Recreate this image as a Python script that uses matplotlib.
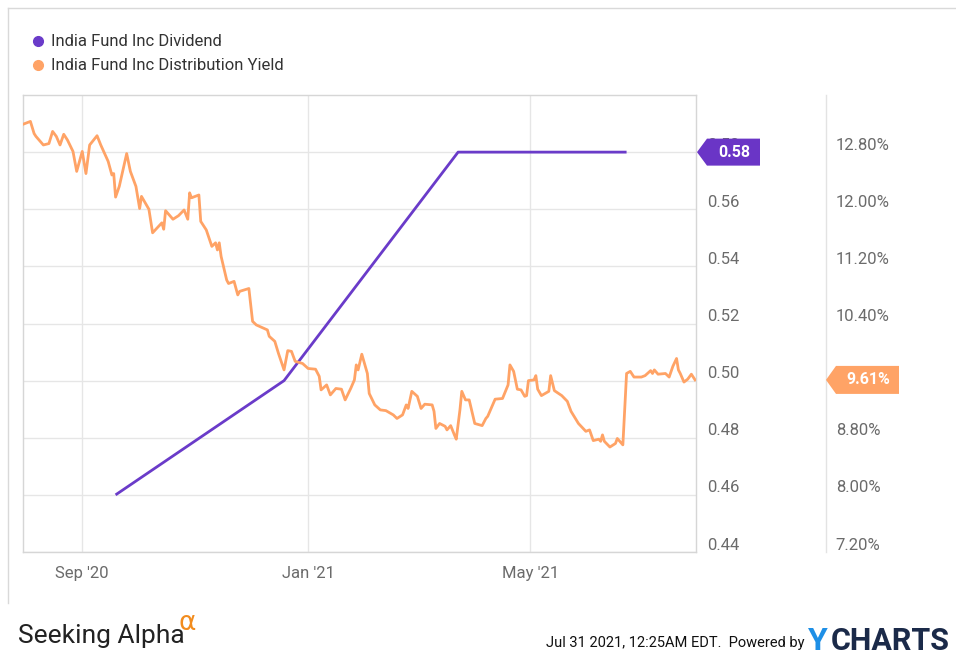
import matplotlib
matplotlib.use("Agg")
import matplotlib.pyplot as plt
import matplotlib.dates as mdates
from matplotlib.patches import Polygon
from matplotlib.lines import Line2D
from matplotlib.ticker import FixedLocator, FuncFormatter
from matplotlib.transforms import ScaledTranslation
import pandas as pd

# ---------------- data ----------------
div_dates = ["2020-09-19", "2020-12-19", "2021-03-23", "2021-06-22"]
div_values = [0.46, 0.50, 0.58, 0.58]

yield_dates = [
    "2020-07-31", "2020-08-04", "2020-08-06", "2020-08-07", "2020-08-11", "2020-08-14", "2020-08-16",
    "2020-08-18", "2020-08-20", "2020-08-22", "2020-08-24", "2020-08-27", "2020-08-29",
    "2020-09-01", "2020-09-03", "2020-09-05", "2020-09-09", "2020-09-11", "2020-09-15", "2020-09-17",
    "2020-09-18", "2020-09-19", "2020-09-21", "2020-09-25", "2020-09-27", "2020-09-29", "2020-09-30",
    "2020-10-02", "2020-10-03", "2020-10-07", "2020-10-09", "2020-10-14", "2020-10-15", "2020-10-16",
    "2020-10-20", "2020-10-23", "2020-10-26", "2020-10-28", "2020-10-29", "2020-10-30",
    "2020-11-03", "2020-11-04", "2020-11-07", "2020-11-10", "2020-11-12", "2020-11-13", "2020-11-14",
    "2020-11-15", "2020-11-18", "2020-11-19", "2020-11-22", "2020-11-24", "2020-11-25", "2020-11-30",
    "2020-12-02", "2020-12-04", "2020-12-10", "2020-12-11", "2020-12-14", "2020-12-16", "2020-12-19",
    "2020-12-21", "2020-12-23", "2020-12-25", "2020-12-29",
    "2021-01-01", "2021-01-05", "2021-01-07", "2021-01-08", "2021-01-11", "2021-01-13", "2021-01-16",
    "2021-01-19", "2021-01-21", "2021-01-24", "2021-01-26", "2021-01-27", "2021-01-28", "2021-01-30",
    "2021-02-02", "2021-02-03", "2021-02-06", "2021-02-09", "2021-02-12", "2021-02-16", "2021-02-18",
    "2021-02-21", "2021-02-23", "2021-02-24", "2021-02-26",
    "2021-03-01", "2021-03-03", "2021-03-05", "2021-03-09", "2021-03-10", "2021-03-11", "2021-03-13",
    "2021-03-16", "2021-03-17", "2021-03-19", "2021-03-21", "2021-03-22", "2021-03-24", "2021-03-25",
    "2021-03-27", "2021-03-29",
    "2021-04-01", "2021-04-05", "2021-04-07", "2021-04-08", "2021-04-12", "2021-04-16", "2021-04-19",
    "2021-04-20", "2021-04-22", "2021-04-24", "2021-04-26", "2021-04-28", "2021-04-29", "2021-04-30",
    "2021-05-03", "2021-05-04", "2021-05-05", "2021-05-07", "2021-05-11", "2021-05-12", "2021-05-14",
    "2021-05-18", "2021-05-21", "2021-05-23", "2021-05-27", "2021-05-31",
    "2021-06-02", "2021-06-04", "2021-06-07", "2021-06-08", "2021-06-09", "2021-06-10", "2021-06-13",
    "2021-06-16", "2021-06-17", "2021-06-20", "2021-06-22", "2021-06-24", "2021-06-26", "2021-06-30",
    "2021-07-02", "2021-07-05", "2021-07-06", "2021-07-07", "2021-07-09", "2021-07-13", "2021-07-15",
    "2021-07-17", "2021-07-19", "2021-07-20", "2021-07-21", "2021-07-23", "2021-07-25", "2021-07-27",
    "2021-07-29",
]
yield_values = [
    13.19, 13.23, 13.06, 13.02, 12.90, 12.92, 13.09, 13.02, 12.90, 13.05,
    12.97, 12.81, 12.53, 12.81, 12.50, 12.90, 13.03, 12.90, 12.67, 12.48,
    12.50, 12.17, 12.32, 12.78, 12.53, 12.39, 12.32, 12.01, 12.18, 12.00,
    11.67, 11.81, 11.72, 11.98, 11.86, 11.91, 11.99, 11.86, 12.23, 12.16,
    12.20, 11.83, 11.71, 11.48, 11.53, 11.43, 11.53, 11.34, 11.01, 10.96,
    10.99, 10.80, 10.85, 10.89, 10.43, 10.38, 10.31, 10.22, 10.15, 9.98,
    9.75, 10.02, 10.01, 9.87, 9.84, 9.77, 9.76, 9.66, 9.47, 9.54,
    9.40, 9.49, 9.48, 9.33, 9.49, 9.61, 9.82, 9.75, 9.97, 9.70,
    9.42, 9.26, 9.19, 9.18, 9.12, 9.07, 9.12, 9.26, 9.21, 9.45,
    9.38, 9.21, 9.27, 9.26, 9.17, 8.93, 9.00, 8.96, 8.91, 8.97,
    8.84, 8.78, 9.19, 9.45, 9.33, 9.33, 9.00, 8.97, 9.07, 9.10,
    9.34, 9.35, 9.54, 9.82, 9.73, 9.48, 9.47, 9.38, 9.39, 9.60,
    9.61, 9.67, 9.48, 9.39, 9.45, 9.67, 9.46, 9.39, 9.31, 9.17,
    9.00, 8.89, 8.91, 8.76, 8.78, 8.75, 8.84, 8.75, 8.67, 8.72,
    8.79, 8.70, 9.70, 9.73, 9.65, 9.65, 9.67, 9.74, 9.70, 9.75,
    9.69, 9.70, 9.65, 9.80, 9.91, 9.75, 9.70, 9.58, 9.62, 9.69, 9.61,
]

x_tick_dates = ["2020-09-01", "2021-01-01", "2021-05-01"]
x_tick_labels = ["Sep '20", "Jan '21", "May '21"]
div_ticks = [0.44, 0.46, 0.48, 0.50, 0.52, 0.54, 0.56, 0.58]
yield_ticks = [7.2, 8.0, 8.8, 9.6, 10.4, 11.2, 12.0, 12.8]

series_names = ["India Fund Inc Dividend", "India Fund Inc Distribution Yield"]

# ---------------- style ----------------
PURPLE = "#6a3bc9"
ORANGE = "#ffa366"
GRID = "#e6e6e6"
TICK = "#6b6b6b"
FONT = ["Roboto", "DejaVu Sans"]
NARROW = ["Liberation Sans Narrow", "Roboto", "DejaVu Sans"]
plt.rcParams["font.family"] = FONT

W, H = 956, 657
fig = plt.figure(figsize=(W / 100, H / 100), dpi=100)
fig.patch.set_facecolor("white")


def fx(px):
    return px / W


def fy(py):
    return 1 - py / H


L, R, T, B = 23, 696, 95, 552
ax = fig.add_axes([fx(L), fy(B), fx(R) - fx(L), fy(T) - fy(B)])
ax2 = ax.twinx()

ydt = pd.to_datetime(yield_dates)
ddt = pd.to_datetime(div_dates)

ax.plot(ddt, div_values, color=PURPLE, lw=2.0, solid_capstyle="butt", zorder=3)
ax2.plot(ydt, yield_values, color=ORANGE, lw=2.0, solid_joinstyle="round", zorder=3)

ax.set_xlim(ydt[0], ydt[-1] + pd.Timedelta(days=0.5))
ax.set_ylim(0.44, 0.60)
ax2.set_ylim(7.2, 13.6)

ax.xaxis.set_major_locator(FixedLocator(mdates.date2num(pd.to_datetime(x_tick_dates))))
ax.set_xticklabels(x_tick_labels)
ax.set_yticks(div_ticks)
ax.yaxis.set_major_formatter(FuncFormatter(lambda v, p: f"{v:.2f}"))
ax.yaxis.tick_right()
ax2.set_yticks(yield_ticks)
ax2.yaxis.set_major_formatter(FuncFormatter(lambda v, p: f"{v:.2f}%"))

ax.grid(True, color=GRID, lw=1.0)
ax.set_axisbelow(True)
for s in ax.spines.values():
    s.set_color("#d6d6d6")
    s.set_linewidth(1.0)
for k in ["top", "left", "bottom"]:
    ax2.spines[k].set_visible(False)
ax2.spines["right"].set_position(("axes", (826 - L) / (R - L)))
ax2.spines["right"].set_color("#e3e3e3")
ax2.spines["right"].set_linewidth(1.0)

ax.tick_params(axis="y", length=0, pad=8, labelsize=12, labelcolor=TICK)
ax.tick_params(axis="x", length=0, pad=10, labelsize=12, labelcolor=TICK)
ax2.tick_params(axis="y", length=0, pad=7, labelsize=12, labelcolor=TICK)

# ---------------- value tags ----------------
fig.canvas.draw()

# y tick labels sit slightly above their grid lines
lift = ScaledTranslation(0, 0.085, fig.dpi_scale_trans)
for t in ax.yaxis.get_major_ticks() + ax2.yaxis.get_major_ticks():
    t.label2.set_transform(t.label2.get_transform() + lift)


def tag(axis, xdata_val, yval, x_point, x_body, x_end, text, color, half=13.5):
    yc = axis.transData.transform((xdata_val, yval))[1]
    ypx = H - yc  # pixel from top
    pts = [(x_point, ypx), (x_body, ypx - half), (x_end, ypx - half),
           (x_end, ypx + half), (x_body, ypx + half)]
    poly = Polygon([(fx(a), fy(b)) for a, b in pts], closed=True,
                   transform=fig.transFigure, facecolor=color, edgecolor="none", zorder=10)
    fig.patches.append(poly)
    fig.text(fx((x_body + x_end) / 2 + 1), fy(ypx), text, color="white", fontsize=11.5,
             fontweight="bold", ha="center", va="center", zorder=11)


xn = mdates.date2num(ydt[-1])
tag(ax, xn, div_values[-1], 697, 707, 760, f"{div_values[-1]:.2f}", "#6a35c6")
tag(ax2, xn, yield_values[-1], 826, 836, 899, f"{yield_values[-1]:.2f}%", "#ffa366", half=14)

# ---------------- legend ----------------
for i, (name, col) in enumerate(zip(series_names, [PURPLE, ORANGE])):
    yy = 41 + 24 * i
    fig.add_artist(Line2D([fx(38)], [fy(yy)], marker="o", markersize=7, color=col,
                          linestyle="none", transform=fig.transFigure))
    fig.text(fx(51), fy(yy), name, fontsize=12, color="#333333", ha="left", va="center")

# ---------------- frame ----------------
fig.add_artist(Line2D([fx(8), fx(956)], [fy(8), fy(8)], color="#d9d9d9", lw=1.0,
                      transform=fig.transFigure))
fig.add_artist(Line2D([fx(8), fx(8)], [fy(8), fy(603)], color="#d9d9d9", lw=1.0,
                      transform=fig.transFigure))

# ---------------- footer ----------------
fig.text(fx(18), fy(636), "Seeking Alpha", family=NARROW, fontsize=19, color="#222222",
         ha="left", va="center")
fig.text(fx(178), fy(623), "\u03b1", family=["DejaVu Sans"], fontsize=19, color="#f28c1e",
         ha="left", va="center")
fig.text(fx(805), fy(643), "Jul 31 2021, 12:25AM EDT.  Powered by", family=NARROW,
         fontsize=10.5, color="#111111", ha="right", va="center")
fig.text(fx(808), fy(641), "Y", family=FONT, fontsize=23, fontweight="bold",
         color="#1e8fe6", ha="left", va="center")
fig.text(fx(831), fy(641), "CHARTS", family=FONT, fontsize=22, fontweight="bold",
         color="#1b2a49", ha="left", va="center")

fig.savefig("out.png", dpi=100, facecolor="white")
